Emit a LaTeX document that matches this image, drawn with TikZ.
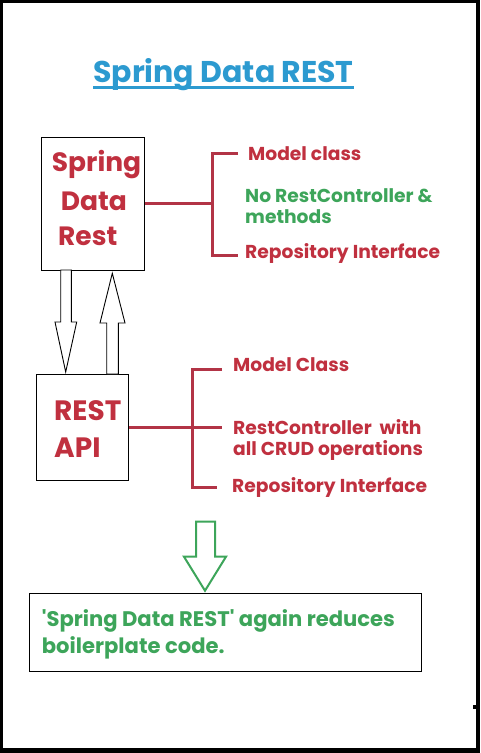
\documentclass[tikz,border=0pt]{standalone}
\usepackage{fontspec}
\setmainfont{Poppins}[Ligatures=TeXOff]
\usetikzlibrary{calc}
\definecolor{ttlblue}{HTML}{2C9AD0}
\definecolor{rd}{HTML}{C0303F}
\definecolor{ln}{HTML}{B23446}
\definecolor{gr}{HTML}{3DA55A}
\begin{document}
\begin{tikzpicture}[x=1pt,y=-1pt,
  txt/.style={anchor=base west,inner sep=0pt,font=\bfseries},
  boxed/.style={draw=black,line width=1pt,inner sep=0pt},
  conn/.style={draw=ln,line width=3pt},
  side/.style={txt,font=\bfseries\fontsize{18.7}{18.7}\selectfont},
  blockarrow/.style={draw=black,line width=0.9pt,fill=white,line join=miter},
  greenarrow/.style={draw=gr,line width=2pt,fill=white,line join=miter}]
\useasboundingbox (0,0) rectangle (480,753);
\fill[black] (0,0) rectangle (480,753);
\fill[white] (3,3) rectangle (476,748);
\fill[black] (473,705) rectangle (477,709);
% title
\node[txt,text=ttlblue,font=\bfseries\fontsize{30}{30}\selectfont] (title) at (93,82) {Spring Data REST};
\draw[ttlblue,line width=3pt] (93,87.5) -- (354,87.5);
% box 1
\node[boxed,minimum width=103pt,minimum height=133pt] (box1) at (92.5,203.5) {};
\node[txt,text=rd,font=\bfseries\fontsize{26.5}{26.5}\selectfont] (s1) at (51.7,171.7) {Spring};
\node[txt,text=rd,font=\bfseries\fontsize{26.5}{26.5}\selectfont] (s2) at (60.7,210) {Data};
\node[txt,text=rd,font=\bfseries\fontsize{26.5}{26.5}\selectfont] (s3) at (58,245) {Rest};
% box 2
\node[boxed,minimum width=91.6pt,minimum height=106.7pt] (box2) at (82.5,427.35) {};
\node[txt,text=rd,font=\bfseries\fontsize{28}{28}\selectfont] (r1) at (54,420) {REST};
\node[txt,text=rd,font=\bfseries\fontsize{28}{28}\selectfont] (r2) at (54,457) {API};
% connectors group 1
\coordinate (j1) at (212,203.5);
\coordinate (t1a) at (238,153);
\coordinate (t1b) at (238,255);
\draw[conn] (box1.east) -- (j1);
\draw[conn] (t1a) -- (212,153) -- (212,255) -- (t1b);
\node[side,text=rd] (m1) at (248,160) {Model class};
\node[side,text=gr] (m2) at (245,202.7) {No RestController \&};
\node[side,text=gr] (m3) at (245,223) {methods};
\node[side,text=rd] (m4) at (245,258) {Repository Interface};
% connectors group 2
\coordinate (j2) at (222,427.35);
\coordinate (t2a) at (222,369);
\coordinate (t2b) at (217,487);
\draw[conn] (box2.east) -- (j2);
\draw[conn] (t2a) -- (192,369) -- (192,487) -- (t2b);
\node[side,text=rd] (n1) at (233,371) {Model Class};
\node[side,text=rd] (n2) at (233,434) {RestController\ \ with};
\node[side,text=rd] (n3) at (233,455) {all CRUD operations};
\node[side,text=rd] (n4) at (232,492) {Repository Interface};
% block arrows between boxes
\draw[blockarrow] (60.7,270) -- (60.7,322) -- (55,322) -- (65.7,372) -- (76.7,322) -- (71.3,322) -- (71.3,270) -- cycle;
\draw[blockarrow] (106.7,374) -- (106.7,323) -- (100,323) -- (112.3,273.3) -- (125,323) -- (118.3,323) -- (118.3,374) -- cycle;
% box 3
\node[boxed,minimum width=392.4pt,minimum height=78.4pt] (box3) at (225.5,632.5) {};
\draw[greenarrow] (196,521.7) -- (196,556.7) -- (184,556.7) -- (205,590.7) -- (226,556.7) -- (215,556.7) -- (215,521.7) -- cycle;
\node[txt,text=gr,font=\bfseries\fontsize{21.1}{21.1}\selectfont] (b1) at (41.7,626.7) {'Spring Data REST' again reduces};
\node[txt,text=gr,font=\bfseries\fontsize{21.1}{21.1}\selectfont] (b2) at (41.7,653) {boilerplate code.};
\end{tikzpicture}
\end{document}
